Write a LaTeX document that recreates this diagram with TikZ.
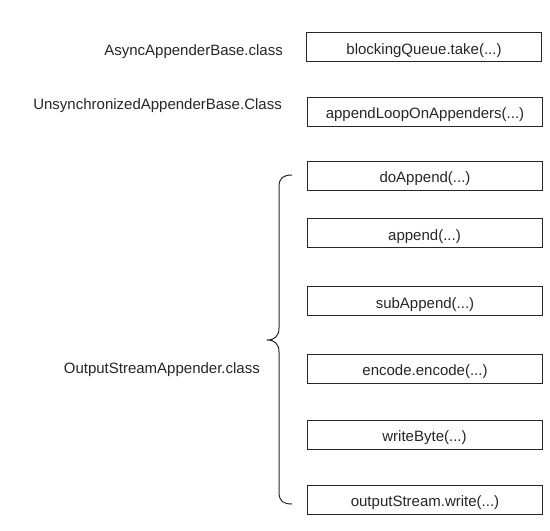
\documentclass[tikz,border=0pt]{standalone}
\usepackage{fontspec}
\setmainfont{Liberation Sans}
\usepackage{tikz}
\usetikzlibrary{positioning}
\tikzstyle{method} = [rectangle, minimum width=235pt, minimum height=29pt, inner sep=0pt, text height=14.5pt, text depth=0pt, text centered, draw=black!85, line width=1pt, font=\fontsize{15}{18}\selectfont, text=black!85]
\tikzstyle{classlabel} = [inner sep=0pt, font=\fontsize{15}{18}\selectfont, text=black!85]
\tikzstyle{brace} = [draw=black!85, line width=1pt]

\begin{document}
\begin{tikzpicture}[x=1pt, y=-1pt]
\useasboundingbox (0,0) rectangle (550,531);

\node (take) [method] at (424,47) {blockingQueue.take(...)};
\node (loop) [method] at (425,111.5) {appendLoopOnAppenders(...)};
\node (doapp) [method] at (425,175.5) {doAppend(...)};
\node (app) [method] at (424.5,233) {append(...)};
\node (subapp) [method] at (425,301) {subAppend(...)};
\node (enc) [method] at (425,368.5) {encode.encode(...)};
\node (wbyte) [method] at (424.5,434.5) {writeByte(...)};
\node (oswrite) [method] at (425,499.5) {outputStream.write(...)};

\node (async) [classlabel, anchor=base east] at (283,55) {AsyncAppenderBase.class};
\node (unsync) [classlabel, anchor=base east] at (282,109) {UnsynchronizedAppenderBase.Class};
\node (osa) [classlabel, anchor=base east] at (260,373.5) {OutputStreamAppender.class};

% brace around the OutputStreamAppender calls
\coordinate (btop) at (292,175);
\coordinate (bmid) at (267,340);
\coordinate (bbot) at (292,504);
\draw [brace] (btop) .. controls (283,175) and (279,178) .. (279,187) -- (279,328)
  .. controls (279,336) and (275,340) .. (bmid)
  .. controls (275,340) and (279,344) .. (279,352) -- (279,492)
  .. controls (279,501) and (283,504) .. (bbot);

\end{tikzpicture}
\end{document}
